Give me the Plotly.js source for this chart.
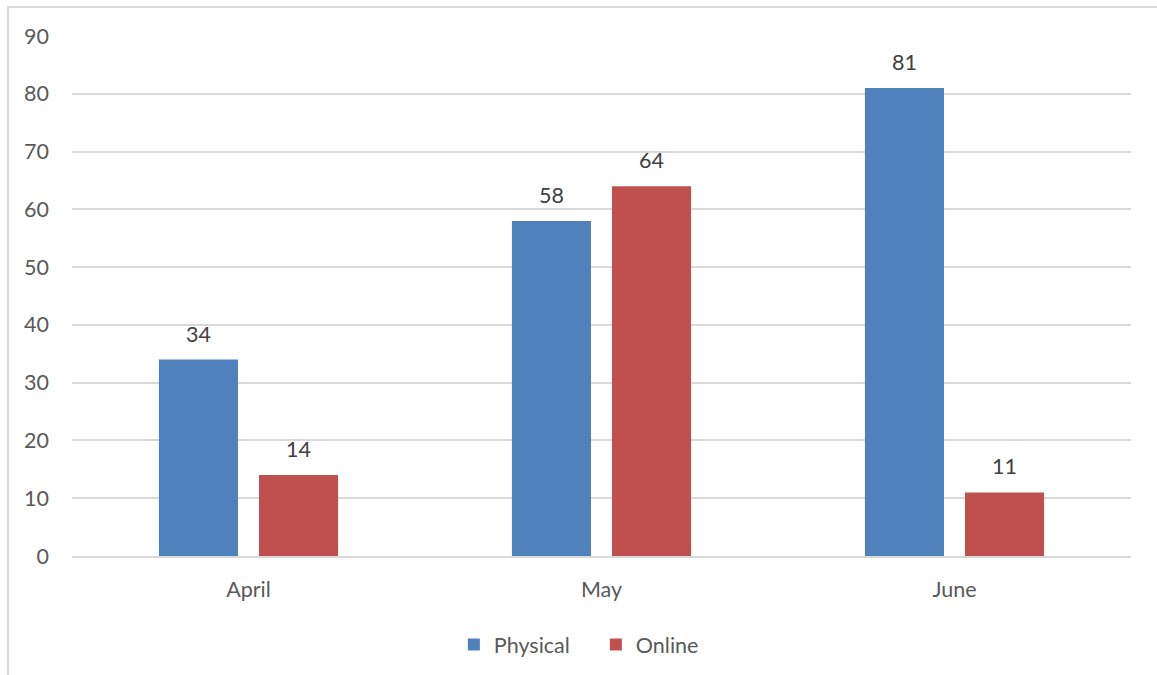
<!DOCTYPE html>
<html>
<head>
<meta charset="utf-8">
<script src="https://cdn.plot.ly/plotly-3.0.1.min.js"></script>
<style>
html,body{margin:0;padding:0;background:#fff;}
#wrap{position:relative;width:1157px;height:675px;}
#chart{position:absolute;left:0;top:0;width:1157px;height:675px;}
#frame{position:absolute;left:7px;top:6px;right:0;bottom:0;border-left:2px solid #D9D9D9;border-top:2px solid #D9D9D9;pointer-events:none;}
</style>
</head>
<body>
<div id="wrap"><div id="chart"></div><div id="frame"></div></div>
<script>
var categories = ["April", "May", "June"];
var physical = [34, 58, 81];
var online = [14, 64, 11];
var seriesNames = ["Physical", "Online"];
var yTicks = [0, 10, 20, 30, 40, 50, 60, 70, 80, 90];

var FONT = "Lato, 'Open Sans', sans-serif";
var FS = 21.5;

var traces = [
  {type: "bar", name: seriesNames[0], x: categories, y: physical,
   marker: {color: "#4F81BD"}, hoverinfo: "x+y"},
  {type: "bar", name: seriesNames[1], x: categories, y: online,
   marker: {color: "#C0504D"}, hoverinfo: "x+y"}
];

var annotations = [];
[physical, online].forEach(function (vals, si) {
  vals.forEach(function (v, i) {
    annotations.push({
      x: categories[i], y: v, xref: "x", yref: "y",
      text: String(v), showarrow: false,
      xanchor: "center", yanchor: "bottom",
      xshift: si === 0 ? -50 : 50, yshift: 11,
      font: {family: FONT, size: FS, color: "#404040"}
    });
  });
});

var layout = {
  width: 1157, height: 675,
  margin: {l: 72, r: 26, t: 36, b: 119, pad: 0},
  paper_bgcolor: "rgba(0,0,0,0)", plot_bgcolor: "rgba(0,0,0,0)",
  barmode: "group", bargap: 0.433, bargroupgap: 0.21,
  font: {family: FONT, size: FS, color: "#595959"},
  xaxis: {
    type: "category", showgrid: false, showline: true,
    linecolor: "#D9D9D9", linewidth: 2, ticks: "", ticklabelstandoff: 13,
    tickfont: {family: FONT, size: FS, color: "#595959"}, fixedrange: true
  },
  yaxis: {
    range: [0, 90], tickvals: yTicks, ticktext: yTicks.map(String),
    showgrid: true, gridcolor: "#D9D9D9", gridwidth: 2,
    zeroline: false, showline: false, ticks: "", ticklabelstandoff: 22,
    tickfont: {family: FONT, size: FS, color: "#595959"}, fixedrange: true
  },
  showlegend: true,
  legend: {
    orientation: "h", xref: "container", yref: "container",
    x: 0.515, xanchor: "center", y: 0.045, yanchor: "middle",
    font: {family: FONT, size: FS, color: "#595959"},
    itemwidth: 30, tracegroupgap: 0, entrywidth: 97
  },
  annotations: annotations
};

Plotly.newPlot("chart", traces, layout, {displayModeBar: false, staticPlot: true});
</script>
</body>
</html>
